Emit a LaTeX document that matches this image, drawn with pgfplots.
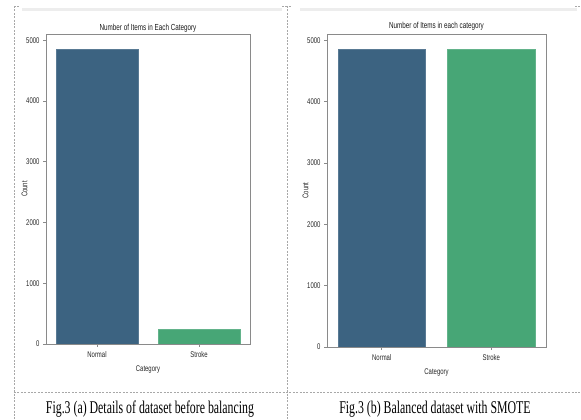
\documentclass[border=0pt]{standalone}
\usepackage{pgfplots}
\pgfplotsset{compat=1.18}
\usepackage{fontspec}
\setmainfont{Liberation Sans}
\newfontfamily\chartfont{Liberation Sans}[FakeStretch=0.72]
\newfontfamily\capfont{Liberation Serif}[FakeStretch=0.66]
\definecolor{cnormal}{HTML}{3C6381}
\definecolor{cstroke}{HTML}{47A676}
\definecolor{frame}{HTML}{A8A8A8}
\definecolor{spine}{HTML}{8A8A8A}
\pgfplotsset{
  barstyle/.style={
    scale only axis,
    ybar, bar width=0.8, bar shift=0pt,
    xmin=-0.5, xmax=1.5, ymin=0, ymax=5104,
    xtick={0,1}, xticklabels={Normal,Stroke},
    ytick={0,1000,2000,3000,4000,5000},
    scaled y ticks=false,
    yticklabel style={/pgf/number format/1000 sep={}},
    /pgf/number format/assume math mode=true,
    tick label style={font=\chartfont\fontsize{8.3}{9}\selectfont, text=black!85},
    label style={font=\chartfont\fontsize{8.3}{9}\selectfont, text=black!85},
    title style={font=\chartfont\fontsize{8.8}{9}\selectfont, text=black!90},
    axis line style={spine, line width=0.8bp},
    tick style={spine, line width=0.6bp},
    tick align=outside, major tick length=3bp,
    xtick pos=left, ytick pos=left,
    xticklabel style={yshift=-1bp},
    xlabel={Category}, ylabel={Count},
    xlabel style={yshift=-1bp},
    ylabel style={yshift=-8bp},
  }
}
\begin{document}
\begin{tikzpicture}
\path[use as bounding box] (0bp,0bp) rectangle (581bp,420bp);
% faint top bands
\draw[black!7, line width=3bp] (22bp,410bp) -- (282bp,410bp);
\draw[black!7, line width=3bp] (300bp,410bp) -- (577bp,410bp);
% dashed frame
\begin{scope}[frame, line width=0.7bp, dash pattern=on 2bp off 1.4bp]
\draw (14bp,414bp) -- (14bp,0bp);
\draw (287bp,414bp) -- (287bp,0bp);
\draw (14bp,28bp) -- (581bp,28bp);
\draw (14bp,414bp) -- (20bp,414bp);
\draw (282bp,414bp) -- (292bp,414bp);
\draw (575bp,414bp) -- (580bp,414bp);
\end{scope}
% left axis
\begin{axis}[barstyle, at={(46bp,76bp)}, anchor=south west, width=204bp, height=310bp,
  title={Number of Items in Each Category}, title style={yshift=-8bp}]
\addplot[fill=cnormal, draw=cnormal!85!white] coordinates {(0,4861)};
\addplot[fill=cstroke, draw=cstroke!85!white] coordinates {(1,249)};
\end{axis}
% right axis
\begin{axis}[barstyle, at={(327bp,73bp)}, anchor=south west, width=219bp, height=313bp,
  title={Number of Items in each category}, title style={yshift=-6bp}]
\addplot[fill=cnormal, draw=cnormal!85!white] coordinates {(0,4861)};
\addplot[fill=cstroke, draw=cstroke!85!white] coordinates {(1,4861)};
\end{axis}
% captions
\node[font=\capfont\fontsize{18}{20}\selectfont, anchor=base] at (150bp,7bp) {Fig.3 (a) Details of dataset before balancing};
\node[font=\capfont\fontsize{18}{20}\selectfont, anchor=base] at (435bp,7bp) {Fig.3 (b) Balanced dataset with SMOTE};
\end{tikzpicture}
\end{document}
